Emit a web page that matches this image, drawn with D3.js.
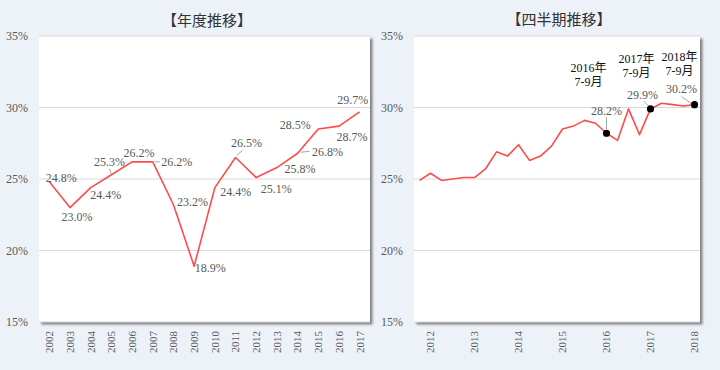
<!DOCTYPE html>
<html>
<head>
<meta charset="utf-8">
<script src="https://cdn.jsdelivr.net/npm/d3@7"></script>
<style>
  body { margin: 0; background: #edf1f8; }
  svg { display: block; }
</style>
</head>
<body>
<svg id="chart"></svg>
<script>
// 年度データ
var years = ["2002","2003","2004","2005","2006","2007","2008","2009","2010","2011","2012","2013","2014","2015","2016","2017"];
var annual = [24.8, 23.0, 24.4, 25.3, 26.2, 26.2, 23.2, 18.9, 24.4, 26.5, 25.1, 25.8, 26.8, 28.5, 28.7, 29.7];

// 四半期データ
var quarters = [
  "2012年4-6月","2012年7-9月","2012年10-12月",
  "2013年1-3月","2013年4-6月","2013年7-9月","2013年10-12月",
  "2014年1-3月","2014年4-6月","2014年7-9月","2014年10-12月",
  "2015年1-3月","2015年4-6月","2015年7-9月","2015年10-12月",
  "2016年1-3月","2016年4-6月","2016年7-9月","2016年10-12月",
  "2017年1-3月","2017年4-6月","2017年7-9月","2017年10-12月",
  "2018年1-3月","2018年4-6月","2018年7-9月"
];
var quarterly = [24.9, 25.4, 24.9, 25.0, 25.1, 25.1, 25.7, 26.9, 26.6, 27.4, 26.3, 26.6, 27.3,
                 28.5, 28.7, 29.1, 28.9, 28.2, 27.7, 29.9, 28.1, 29.9, 30.3, 30.2, 30.1, 30.2];
var highlights = ["2016年7-9月", "2017年7-9月", "2018年7-9月"];

var yTicks = [15, 20, 25, 30, 35];
var titles = ["【年度推移】", "【四半期推移】"];

// ラベル位置 (点からのずれ)
var annualLabelPos = [
  {dx: 12, dy: -4}, {dx: 7, dy: 9}, {dx: 15, dy: 7}, {dx: -2, dy: -13, lead: [[0, -1], [-2, -6]]},
  {dx: 7, dy: -9}, {dx: 24, dy: 0, lead: [[2, 0], [7, 0]]}, {dx: 19, dy: -3}, {dx: 16, dy: 2},
  {dx: 21, dy: 4}, {dx: 11, dy: -15, lead: [[1, -2], [7, -7]]}, {dx: 20, dy: 11}, {dx: 23, dy: 1},
  {dx: 30, dy: -1, lead: [[3, -1], [12, -2]]}, {dx: -23, dy: -4}, {dx: 13, dy: 11}, {dx: -7, dy: -12}
];
var highlightPos = [
  {tx: -18, ty: -65, vx: 0, vy: -22, lead: [[0, -16], [0, -4]]},
  {tx: -14, ty: -50, vx: -8, vy: -14, lead: [[-7, -8], [-1, -2]]},
  {tx: -15, ty: -48, vx: -13, vy: -16, lead: [[-13, -8], [-3, -1]]}
];

var W = 720, H = 370;
var svg = d3.select("#chart").attr("width", W).attr("height", H);
svg.append("rect").attr("width", W).attr("height", H).attr("fill", "#edf1f8");

var defs = svg.append("defs");
defs.append("filter").attr("id", "shadow")
    .attr("x", "-5%").attr("y", "-5%").attr("width", "115%").attr("height", "115%")
  .append("feDropShadow")
    .attr("dx", 2.5).attr("dy", 2.5).attr("stdDeviation", 1)
    .attr("flood-color", "#666").attr("flood-opacity", 0.8);

var plotTop = 36, plotBottom = 322;
var y = d3.scaleLinear().domain([15, 35]).range([plotBottom, plotTop]);

var drawPanel = (opt) => {
  var g = svg.append("g");
  var x = d3.scaleBand().domain(opt.cats).range([opt.x0, opt.x1]);
  var cx = d => x(d) + x.bandwidth() / 2;

  g.append("rect")
      .attr("x", opt.x0).attr("y", plotTop)
      .attr("width", opt.x1 - opt.x0).attr("height", plotBottom - plotTop)
      .attr("fill", "#fff").attr("filter", "url(#shadow)");

  g.append("text")
      .attr("x", opt.tx).attr("y", opt.ty)
      .attr("text-anchor", "middle").attr("dominant-baseline", "central")
      .style("font", "15px 'Noto Sans CJK JP', sans-serif").attr("fill", "#333")
      .text(opt.title);

  // 目盛線
  g.append("g").selectAll("line").data(yTicks).join("line")
      .attr("x1", opt.x0).attr("x2", opt.x1)
      .attr("y1", d => y(d)).attr("y2", d => y(d))
      .attr("stroke", "#d9d9d9").attr("stroke-width", 1);

  var yAxis = g.append("g")
      .attr("transform", `translate(${opt.x0 - 4},0)`)
      .call(d3.axisLeft(y).tickValues(yTicks).tickSize(0).tickPadding(7).tickFormat(d => d + "%"));
  yAxis.select(".domain").remove();
  yAxis.selectAll("text")
      .style("font", "12px 'Liberation Serif', serif").attr("fill", "#595959");

  var xAxis = g.append("g")
      .attr("transform", `translate(0,${plotBottom})`)
      .call(d3.axisBottom(x).tickValues(opt.tickCats).tickSize(0).tickFormat(opt.tickFormat));
  xAxis.select(".domain").remove();
  xAxis.selectAll("text")
      .style("font", "11px 'Liberation Serif', serif").attr("fill", "#595959")
      .attr("transform", "rotate(-90)")
      .attr("text-anchor", "end")
      .attr("dy", "0.35em").attr("x", -9).attr("y", 0);

  var line = d3.line()
      .x((d, i) => cx(opt.cats[i]))
      .y(d => y(d));

  g.append("path")
      .datum(opt.values)
      .attr("d", line)
      .attr("fill", "none")
      .attr("stroke", "#ff4b4b")
      .attr("stroke-width", 1.6)
      .attr("stroke-linejoin", "round");

  return {x: cx, g: g};
};

// 左: 年度推移
var left = drawPanel({
  cats: years, values: annual, x0: 39, x1: 370, title: titles[0], tx: 207, ty: 19,
  tickCats: years, tickFormat: d => d
});
var lbl = left.g.append("g");
annual.forEach((v, i) => {
  var px = left.x(years[i]), py = y(v), p = annualLabelPos[i];
  if (p.lead) {
    lbl.append("line")
        .attr("x1", px + p.lead[0][0]).attr("y1", py + p.lead[0][1])
        .attr("x2", px + p.lead[1][0]).attr("y2", py + p.lead[1][1])
        .attr("stroke", "#a6a6a6").attr("stroke-width", 1);
  }
  lbl.append("text")
      .attr("x", px + p.dx).attr("y", py + p.dy)
      .attr("text-anchor", "middle").attr("dominant-baseline", "central")
      .style("font", "12px 'Liberation Serif', serif").attr("fill", "#595959")
      .text(v.toFixed(1) + "%");
});

// 右: 四半期推移
var right = drawPanel({
  cats: quarters, values: quarterly, x0: 414, x1: 700, title: titles[1], tx: 559, ty: 18,
  tickCats: quarters.filter(d => d.endsWith("7-9月")), tickFormat: d => d.slice(0, 4)
});
var ann = right.g.append("g");
highlights.forEach((q, k) => {
  var i = quarters.indexOf(q), v = quarterly[i];
  var px = right.x(q), py = y(v), p = highlightPos[k];
  ann.append("line")
      .attr("x1", px + p.lead[0][0]).attr("y1", py + p.lead[0][1])
      .attr("x2", px + p.lead[1][0]).attr("y2", py + p.lead[1][1])
      .attr("stroke", "#a6a6a6").attr("stroke-width", 1);
  ann.append("circle")
      .attr("cx", px).attr("cy", py).attr("r", 3.6)
      .attr("fill", "#000");
  ann.append("text")
      .attr("x", px + p.vx).attr("y", py + p.vy)
      .attr("text-anchor", "middle").attr("dominant-baseline", "central")
      .style("font", "12px 'Liberation Serif', serif").attr("fill", "#595959")
      .text(v.toFixed(1) + "%");
  var parts = [q.slice(0, q.indexOf("年") + 1), q.slice(q.indexOf("年") + 1)];
  ann.append("text")
      .attr("text-anchor", "middle")
      .style("font", "12px 'Liberation Serif', 'Noto Sans CJK JP', serif").attr("fill", "#111")
      .selectAll("tspan").data(parts).join("tspan")
      .attr("x", px + p.tx)
      .attr("y", (d, j) => py + p.ty + j * 14)
      .attr("dominant-baseline", "central")
      .text(d => d);
});
</script>
</body>
</html>
